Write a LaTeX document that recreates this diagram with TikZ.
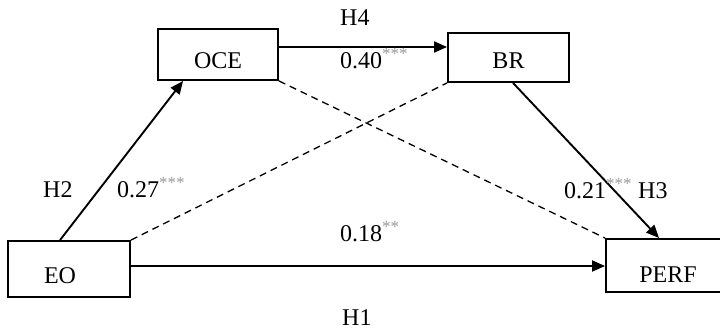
\documentclass[tikz,border=0pt]{standalone}
\usepackage{fontspec}
\setmainfont{Liberation Serif}
\usetikzlibrary{arrows.meta}
\newcommand{\sigstars}[1]{\raisebox{9pt}{\fontsize{17}{17}\selectfont\color{black!40}#1}}
\begin{document}
\begin{tikzpicture}[x=1pt,y=-1pt,
  font=\fontsize{24}{28}\selectfont,
  varbox/.style={draw, line width=1.9pt, inner sep=0pt, anchor=base, align=center},
  conn/.style={line width=1.9pt, -{Triangle[length=13pt,width=11pt]}},
  dconn/.style={line width=1.3pt, dash pattern=on 7pt off 5pt},
  lbl/.style={anchor=base west, inner sep=0pt}]
\useasboundingbox (0,0) rectangle (720,329);
\node[varbox, minimum width=120pt, text height=40pt, text depth=11pt] (oce) at (218,69) {OCE};
\node[varbox, minimum width=121pt, text height=35pt, text depth=14pt] (br) at (508.5,68) {BR};
\node[varbox, minimum width=122pt, text height=42pt, text depth=14pt] (eo) at (69,283) {EO\hspace{18pt}};
\node[varbox, minimum width=124pt, text height=43pt, text depth=10pt] (perf) at (668,282) {PERF};
% connectors
\draw[conn] ([xshift=53pt]eo.north west) -- ([xshift=26pt]oce.south west);
\draw[conn] ([yshift=7.5pt]oce.east) -- ([yshift=7.5pt]oce.east -| br.west);
\draw[conn] ([xshift=66pt]br.south west) -- ([xshift=54pt]perf.north west);
\draw[conn] ([yshift=3pt]eo.east) -- ([yshift=3pt]eo.east -| perf.west);
\draw[dconn] (eo.north east) -- (br.south west);
\draw[dconn] (oce.south east) -- (perf.north west);
% labels
\node[lbl] (h4) at (340,26) {H4};
\node[lbl] (c40) at (340,68) {0.40\sigstars{***}};
\node[lbl] (h2) at (43,197) {H2};
\node[lbl] (c27) at (117,197) {0.27\sigstars{***}};
\node[lbl] (c18) at (340,241) {0.18\sigstars{**}};
\node[lbl] (h1) at (342,325) {H1};
\node[lbl] (c21) at (564,198) {0.21\sigstars{***}};
\node[lbl] (h3) at (638,198) {H3};
\end{tikzpicture}
\end{document}
